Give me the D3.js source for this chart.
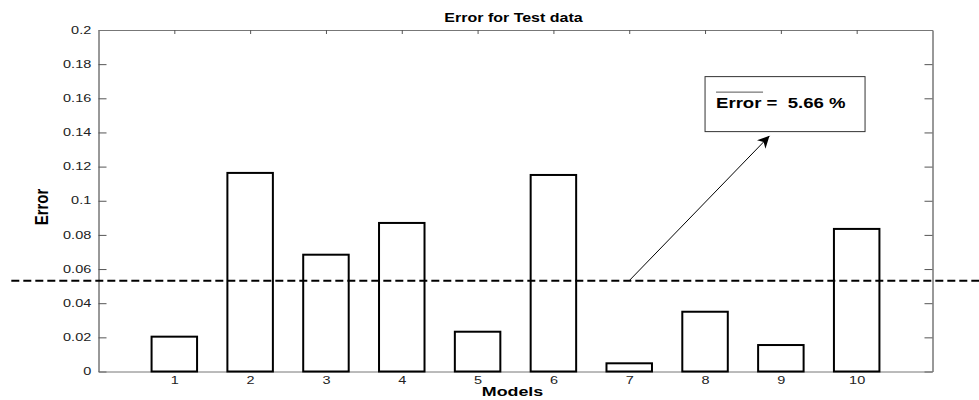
<!DOCTYPE html>
<html>
<head>
<meta charset="utf-8">
<script src="https://cdn.jsdelivr.net/npm/d3@7"></script>
<style>
    body { margin: 0; background: #fff; }
    svg { display: block; }
</style>
</head>
<body>
<div id="chart"></div>
<script>
'use strict';

// chart data
var models = [1, 2, 3, 4, 5, 6, 7, 8, 9, 10];
var errors = [0.0204, 0.1163, 0.0684, 0.087, 0.0233, 0.1151, 0.0048, 0.035, 0.0155, 0.0835];
var yTicks = [0, 0.02, 0.04, 0.06, 0.08, 0.1, 0.12, 0.14, 0.16, 0.18, 0.2];
var meanLevel = 0.0532;
var meanLabel = "5.66 %";
var arrowFrom = [7, 0.0532];
var arrowTo = [8.85, 0.138];
var boxCorner = [8.0, 0.1727];   // top-left of the annotation box, data units

var width = 979;
var height = 400;
var margin = { top: 30, right: 46.5, bottom: 28.5, left: 98.5 };
var stretchTick = 1.45;   // the picture is stretched horizontally
var stretchBold = 1.28;

var svg = d3.select('#chart')
    .append('svg')
    .attr('width', width)
    .attr('height', height);

var x = d3.scaleLinear()
    .domain([0, 11])
    .range([margin.left, width - margin.right]);

var y = d3.scaleLinear()
    .domain([0, 0.2])
    .range([height - margin.bottom, margin.top]);

var tickFont = "'Liberation Sans', Arial, sans-serif";

// axes (ticks point inward, box on)
var gLeft = svg.append('g')
    .attr('transform', 'translate(' + x(0) + ',0)')
    .call(d3.axisLeft(y).tickValues(yTicks).tickSizeInner(-8).tickSizeOuter(0)
        .tickFormat(d3.format('~g')));
gLeft.selectAll('text')
    .attr('x', -5)
    .attr('transform', 'scale(' + stretchTick + ',1)');

var gRight = svg.append('g')
    .attr('transform', 'translate(' + x(11) + ',0)')
    .call(d3.axisRight(y).tickValues(yTicks).tickSizeInner(-8).tickSizeOuter(0)
        .tickFormat(''));

var gTop = svg.append('g')
    .attr('transform', 'translate(0,' + y(0.2) + ')')
    .call(d3.axisTop(x).tickValues(models).tickSizeInner(-4).tickSizeOuter(0)
        .tickFormat(''));

var gBottom = svg.append('g')
    .attr('transform', 'translate(0,' + y(0) + ')')
    .call(d3.axisBottom(x).tickValues(models).tickSizeInner(-4).tickSizeOuter(0));
gBottom.selectAll('text')
    .attr('y', 5)
    .attr('transform', 'scale(' + stretchTick + ',1)');

svg.selectAll('.tick text')
    .style('font-family', tickFont)
    .style('font-size', '10px')
    .style('fill', '#222');
svg.selectAll('.tick line').attr('stroke', '#555');
gLeft.select('.domain').attr('stroke', '#333');
gRight.select('.domain').attr('stroke', '#333');
gTop.select('.domain').attr('stroke', '#777');
gBottom.select('.domain').attr('stroke', '#777');

// bars
var barW = (x(1) - x(0)) * 0.6;
svg.selectAll('rect.bar')
    .data(models)
    .enter()
    .append('rect')
    .attr('class', 'bar')
    .attr('x', function(d) { return x(d) - barW / 2; })
    .attr('y', function(d, i) { return y(errors[i]); })
    .attr('width', barW)
    .attr('height', function(d, i) { return y(0) - y(errors[i]); })
    .attr('fill', '#fff')
    .attr('stroke', '#000')
    .attr('stroke-width', 2);

// mean line across the whole figure
svg.append('line')
    .attr('x1', x(-1.15))
    .attr('x2', width)
    .attr('y1', y(meanLevel))
    .attr('y2', y(meanLevel))
    .attr('stroke', '#000')
    .attr('stroke-width', 2)
    .attr('stroke-dasharray', '8,4');

// arrow
svg.append('defs').append('marker')
    .attr('id', 'head')
    .attr('viewBox', '0 0 10 10')
    .attr('refX', 10)
    .attr('refY', 5)
    .attr('markerWidth', 12)
    .attr('markerHeight', 12)
    .attr('markerUnits', 'userSpaceOnUse')
    .attr('orient', 'auto')
    .append('path')
    .attr('d', 'M0,0 L10,5 L0,10 L3,5 Z')
    .attr('fill', '#000');

svg.append('line')
    .attr('x1', x(arrowFrom[0]))
    .attr('y1', y(arrowFrom[1]))
    .attr('x2', x(arrowTo[0]))
    .attr('y2', y(arrowTo[1]))
    .attr('stroke', '#000')
    .attr('stroke-width', 1)
    .attr('marker-end', 'url(#head)');

// annotation box
var bx = x(boxCorner[0]);
var by = y(boxCorner[1]);
svg.append('rect')
    .attr('x', bx)
    .attr('y', by)
    .attr('width', 160)
    .attr('height', 55)
    .attr('fill', '#fff')
    .attr('stroke', '#333')
    .attr('stroke-width', 1);

svg.append('text')
    .attr('transform', 'translate(' + (bx + 11) + ',' + (by + 31) + ') scale(' + stretchBold + ',1)')
    .style('font-family', tickFont)
    .style('font-size', '14.5px')
    .style('font-weight', 'bold')
    .attr('xml:space', 'preserve')
    .text('Error =  ' + meanLabel);

svg.append('line')
    .attr('x1', bx + 11)
    .attr('x2', bx + 58)
    .attr('y1', by + 15.5)
    .attr('y2', by + 15.5)
    .attr('stroke', '#555')
    .attr('stroke-width', 1);

// title and labels
svg.append('text')
    .attr('transform', 'translate(' + ((x(0) + x(11)) / 2 - 2) + ',22) scale(' + stretchBold + ',1)')
    .attr('text-anchor', 'middle')
    .style('font-family', tickFont)
    .style('font-size', '12.5px')
    .style('font-weight', 'bold')
    .text('Error for Test data');

svg.append('text')
    .attr('transform', 'translate(' + ((x(0) + x(11)) / 2 - 3) + ',396) scale(' + (stretchBold + 0.15) + ',1)')
    .attr('text-anchor', 'middle')
    .style('font-family', tickFont)
    .style('font-size', '12.5px')
    .style('font-weight', 'bold')
    .text('Models');

svg.append('text')
    .attr('transform', 'translate(48,207) scale(' + stretchBold + ',1) rotate(-90)')
    .attr('text-anchor', 'middle')
    .style('font-family', tickFont)
    .style('font-size', '15px')
    .style('font-weight', 'bold')
    .text('Error');
</script>
</body>
</html>
